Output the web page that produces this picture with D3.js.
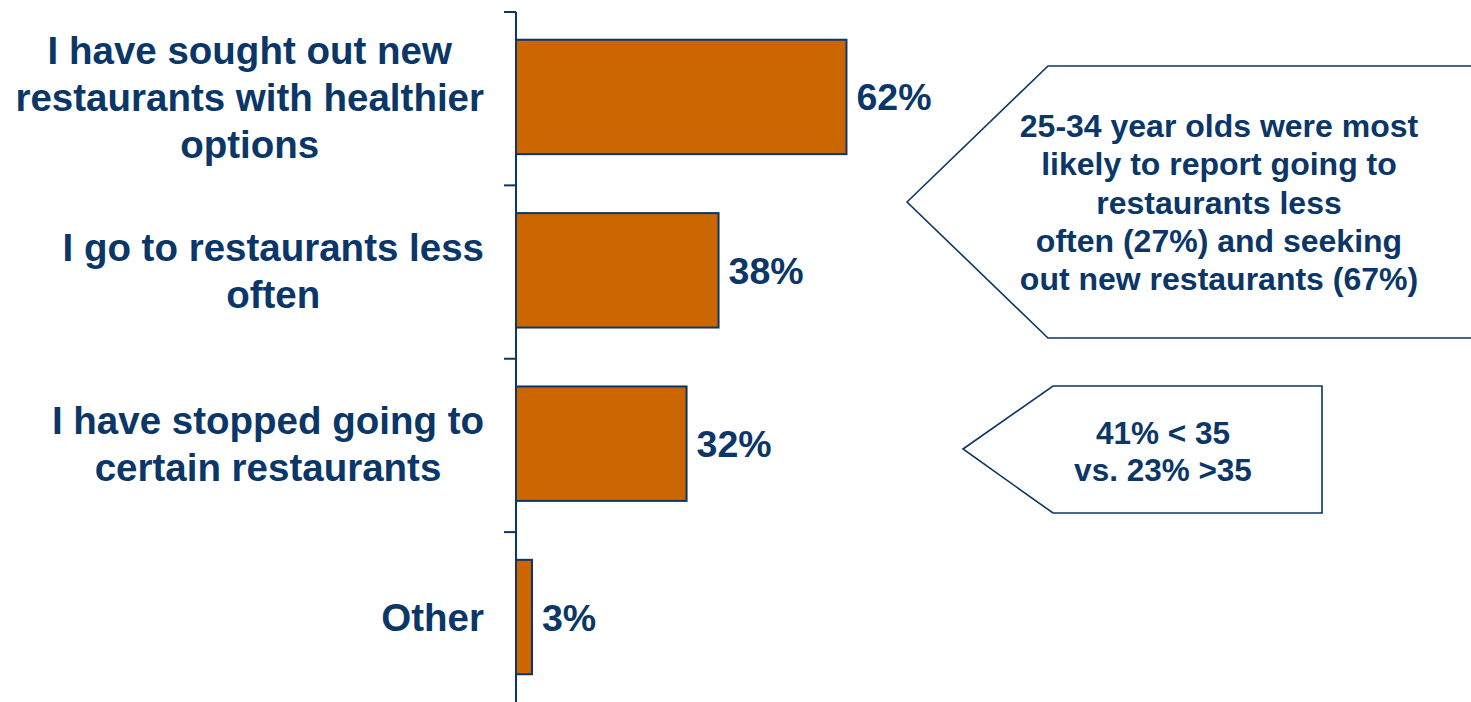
<!DOCTYPE html>
<html>
<head>
<meta charset="utf-8">
<script src="https://cdn.jsdelivr.net/npm/d3@7"></script>
<style>
  html, body { margin: 0; padding: 0; background: #ffffff; }
  svg { display: block; }
  text { font-family: "Liberation Sans", Arial, sans-serif; font-weight: bold; fill: #0B3668; }
</style>
</head>
<body>
<svg id="chart" width="1471" height="702"></svg>
<script>
// Survey responses: share of respondents for each change in restaurant habits
const categories = [
  ["I have sought out new", "restaurants with healthier", "options"],
  ["I go to restaurants less", "often"],
  ["I have stopped going to", "certain restaurants"],
  ["Other"]
];
const values = [62, 38, 32, 3];
const valueLabels = ["62%", "38%", "32%", "3%"];

// Callout notes
const note1Lines = [
  "25-34 year olds were most",
  "likely to report going to",
  "restaurants less",
  "often (27%) and seeking",
  "out new restaurants (67%)"
];
const note2Lines = ["41% < 35", "vs. 23% >35"];

const navy = "#0B3668";
const orange = "#CC6600";

const svg = d3.select("#chart");
const keys = categories.map((c, i) => "c" + i);

const axisX = 516;
const y = d3.scaleBand().domain(keys).range([12, 702]).paddingInner(0.34).paddingOuter(0.16);
const x = d3.scaleLinear().domain([0, 100]).range([axisX, axisX + 533]);

// Vertical category axis with ticks on the band boundaries
svg.append("line")
  .attr("x1", axisX).attr("x2", axisX)
  .attr("y1", 12).attr("y2", 702)
  .attr("stroke", navy).attr("stroke-width", 2);
const boundaries = d3.range(keys.length + 1).map(i => 12 + i * y.step());
svg.selectAll("line.tick").data(boundaries).join("line")
  .attr("class", "tick")
  .attr("x1", axisX - 12).attr("x2", axisX)
  .attr("y1", d => d).attr("y2", d => d)
  .attr("stroke", navy).attr("stroke-width", 2);

// Bars
svg.selectAll("rect.bar").data(values).join("rect")
  .attr("class", "bar")
  .attr("x", x(0))
  .attr("y", (d, i) => y(keys[i]))
  .attr("width", d => x(d) - x(0))
  .attr("height", y.bandwidth())
  .attr("fill", orange)
  .attr("stroke", navy)
  .attr("stroke-width", 2);

// Value labels
svg.selectAll("text.val").data(values).join("text")
  .attr("class", "val")
  .attr("x", d => x(d) + 10)
  .attr("y", (d, i) => y(keys[i]) + y.bandwidth() / 2)
  .attr("dy", "0.36em")
  .style("font-size", "37.5px")
  .text((d, i) => valueLabels[i]);

// Category labels: lines centred on each other, block right-aligned to the axis
const labelRight = 484;
const labelLH = 47;
categories.forEach((lines, i) => {
  const cy = y(keys[i]) + y.bandwidth() / 2;
  const g = svg.append("g");
  const t = g.selectAll("text").data(lines).join("text")
    .attr("text-anchor", "middle")
    .style("font-size", "38.5px")
    .attr("y", (d, j) => cy + (j - (lines.length - 1) / 2) * labelLH)
    .attr("dy", "0.36em")
    .text(d => d);
  let maxW = 0;
  t.each(function () { maxW = Math.max(maxW, this.getComputedTextLength()); });
  t.attr("x", labelRight - maxW / 2);
});

// Callout shapes
function callout(points, lines, cx, cy, lh, fs) {
  svg.append("polygon")
    .attr("points", points.map(p => p.join(",")).join(" "))
    .attr("fill", "#ffffff")
    .attr("stroke", navy)
    .attr("stroke-width", 1.6);
  svg.append("g").selectAll("text").data(lines).join("text")
    .attr("text-anchor", "middle")
    .attr("x", cx)
    .attr("y", (d, j) => cy + (j - (lines.length - 1) / 2) * lh)
    .attr("dy", "0.36em")
    .style("font-size", fs + "px")
    .text(d => d);
}

callout([[907, 202], [1048, 66], [1480, 66], [1480, 338], [1048, 338]],
  note1Lines, 1219, 202, 38.2, 32);
callout([[963, 449], [1053, 386], [1322, 386], [1322, 513], [1053, 513]],
  note2Lines, 1163, 451, 36.7, 31.5);
</script>
</body>
</html>
